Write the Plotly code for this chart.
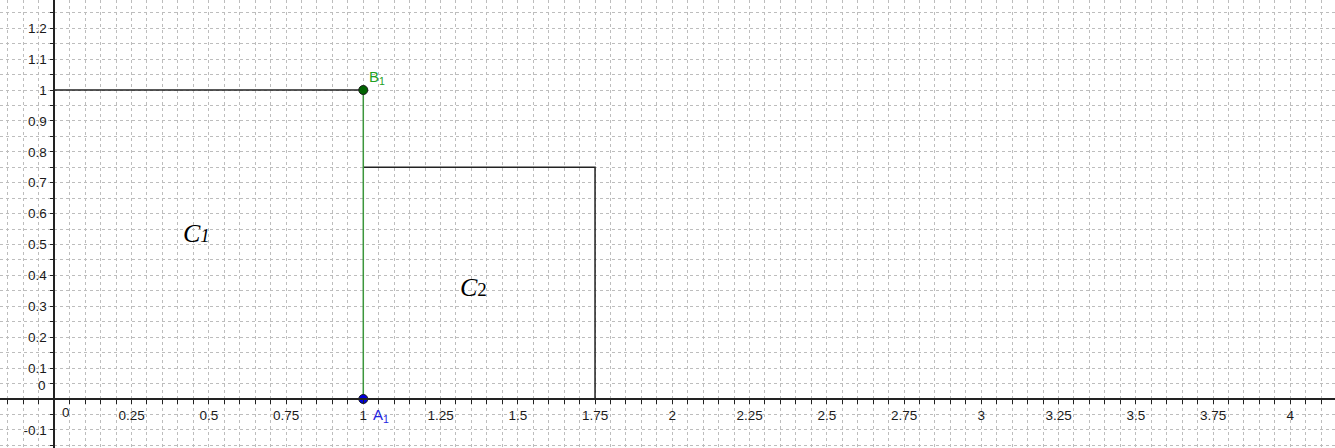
import plotly.graph_objects as go

# ---- data ----
x_range = [-0.1757, 4.1447]
y_range = [-0.1586, 1.2913]
x_tick_vals = [0.25, 0.5, 0.75, 1, 1.25, 1.5, 1.75, 2, 2.25, 2.5, 2.75, 3, 3.25, 3.5, 3.75, 4]
x_tick_text = ["0.25", "0.5", "0.75", "1", "1.25", "1.5", "1.75", "2", "2.25", "2.5", "2.75", "3", "3.25", "3.5", "3.75", "4"]
y_tick_vals = [-0.1, 0.1, 0.2, 0.3, 0.4, 0.5, 0.6, 0.7, 0.8, 0.9, 1, 1.1, 1.2]
y_tick_text = ["-0.1", "0.1", "0.2", "0.3", "0.4", "0.5", "0.6", "0.7", "0.8", "0.9", "1", "1.1", "1.2"]

c1_x = [0, 1]
c1_y = [1, 1]
c2_x = [1, 1.75, 1.75]
c2_y = [0.75, 0.75, 0]
seg_x = [1, 1]
seg_y = [0, 1]
A1 = (1, 0)
B1 = (1, 1)
C1_pos = (0.459, 0.537)
C2_pos = (1.358, 0.361)

grid_col = "#bdbdbd"
tick_font = dict(family="Liberation Sans, Arial, sans-serif", size=13.5, color="#1a1a1a")

fig = go.Figure()
fig.add_trace(go.Scatter(x=c1_x, y=c1_y, mode="lines", line=dict(color="#222", width=1.5), hoverinfo="skip"))
fig.add_trace(go.Scatter(x=c2_x, y=c2_y, mode="lines", line=dict(color="#222", width=1.5), hoverinfo="skip"))
fig.add_trace(go.Scatter(x=seg_x, y=seg_y, mode="lines", line=dict(color="#3c963c", width=1.5), hoverinfo="skip"))
fig.add_trace(go.Scatter(x=[B1[0]], y=[B1[1]], mode="markers",
                         marker=dict(size=9, color="#006400", line=dict(color="#1a1a1a", width=1)), cliponaxis=False))
fig.add_trace(go.Scatter(x=[A1[0]], y=[A1[1]], mode="markers",
                         marker=dict(size=9, color="#0000dd", line=dict(color="#1a1a1a", width=1)), cliponaxis=False))

xpos = (0 - x_range[0]) / (x_range[1] - x_range[0])
ypos = (0 - y_range[0]) / (y_range[1] - y_range[0])

fig.update_layout(
    width=1335, height=448, margin=dict(l=0, r=0, t=0, b=0),
    paper_bgcolor="white", plot_bgcolor="white", showlegend=False,
    xaxis=dict(range=x_range, anchor="free", position=ypos, showline=True, linecolor="#222", linewidth=1.5,
               zeroline=False, tickmode="array", tickvals=x_tick_vals, ticktext=x_tick_text,
               ticks="outside", ticklen=4, tickcolor="#222", tickwidth=1, tickfont=tick_font,
               showgrid=True, gridcolor=grid_col, griddash="3px,3px", gridwidth=1,
               minor=dict(dtick=0.05, tick0=0, ticks="outside", ticklen=4, tickcolor="#222",
                          showgrid=True, gridcolor=grid_col, griddash="3px,3px", gridwidth=1),
               fixedrange=True),
    yaxis=dict(range=y_range, anchor="free", position=xpos, showline=True, linecolor="#222", linewidth=1.5,
               zeroline=False, tickmode="array", tickvals=y_tick_vals, ticktext=y_tick_text,
               ticks="outside", ticklen=4, tickcolor="#222", tickwidth=1, tickfont=tick_font,
               showgrid=True, gridcolor=grid_col, griddash="3px,3px", gridwidth=1,
               minor=dict(dtick=0.05, tick0=0, ticks="outside", ticklen=4, tickcolor="#222",
                          showgrid=True, gridcolor=grid_col, griddash="3px,3px", gridwidth=1),
               fixedrange=True),
)

# zero labels (GeoGebra style offsets)
fig.add_annotation(x=0.038, y=-0.045, text="0", showarrow=False, font=tick_font, xref="x", yref="y")
fig.add_annotation(x=-0.04, y=0.045, text="0", showarrow=False, font=tick_font, xref="x", yref="y")

# point labels
fig.add_annotation(x=B1[0], y=B1[1], text="B<sub>1</sub>", showarrow=False, xanchor="left", yanchor="bottom",
                   xshift=4, yshift=1, font=dict(family="Liberation Sans, Arial, sans-serif", size=15, color="#22a022"))
fig.add_annotation(x=A1[0], y=A1[1], text="A<sub>1</sub>", showarrow=False, xanchor="left", yanchor="top",
                   xshift=8, yshift=-5, font=dict(family="Liberation Sans, Arial, sans-serif", size=15, color="#2222e0"))

# region labels
serif = "Liberation Serif, Times New Roman, serif"
fig.add_annotation(x=C1_pos[0], y=C1_pos[1], text="<i>C</i><span style='font-size:19px'><i>1</i></span>",
                   showarrow=False, font=dict(family=serif, size=26, color="#000"))
fig.add_annotation(x=C2_pos[0], y=C2_pos[1], text="<i>C</i><span style='font-size:19px'>2</span>",
                   showarrow=False, font=dict(family=serif, size=26, color="#000"))

fig.write_html("out.html", config={"displayModeBar": False}, post_script="document.body.style.margin='0';")
